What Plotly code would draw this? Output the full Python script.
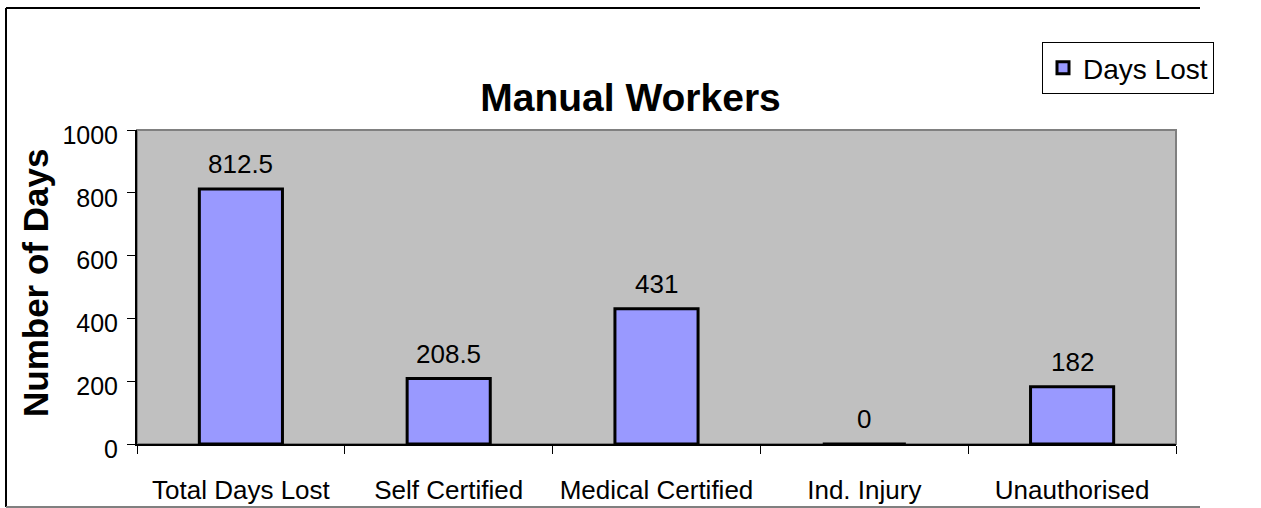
import plotly.graph_objects as go

categories = ["Total Days Lost", "Self Certified", "Medical Certified", "Ind. Injury", "Unauthorised"]
days_lost = [812.5, 208.5, 431, 0, 182]
value_labels = ["812.5", "208.5", "431", "0", "182"]
y_ticks = [0, 200, 400, 600, 800, 1000]
series_name = "Days Lost"
title_text = "Manual Workers"
y_title = "Number of Days"

W, H = 1261, 508
L, R, T, B = 137, 1176, 130, 444  # plot area in px
PW, PH = R - L, B - T


def px_x(x):
    return (x - L) / PW


def px_y(y):
    return (B - y) / PH


FONT = "Liberation Sans, Arial, sans-serif"

fig = go.Figure()
fig.add_trace(go.Bar(
    x=categories, y=days_lost, name=series_name, width=0.4,
    marker=dict(color="#9999FF", line=dict(color="black", width=3)),
    showlegend=True,
))

# data labels
for c, v, lab in zip(categories, days_lost, value_labels):
    fig.add_annotation(x=c, y=v, xref="x", yref="y", text=lab,
                       showarrow=False, yanchor="bottom", yshift=8,
                       font=dict(family=FONT, size=26, color="black"))

# y axis title
fig.add_annotation(x=px_x(35), y=px_y(283), xref="paper", yref="paper", text="<b>" + y_title + "</b>",
                   textangle=-90, showarrow=False, xanchor="center", yanchor="middle",
                   font=dict(family=FONT, size=35, color="black"))

shapes = [
    # plot area border (gray)
    dict(type="rect", xref="paper", yref="paper", x0=0, x1=1, y0=0, y1=1,
         line=dict(color="#808080", width=2), fillcolor="rgba(0,0,0,0)", layer="below"),
    # outer chart border
    dict(type="line", xref="paper", yref="paper", x0=px_x(6), x1=px_x(6), y0=px_y(8), y1=px_y(507),
         line=dict(color="black", width=2)),
    dict(type="line", xref="paper", yref="paper", x0=px_x(6), x1=px_x(1200), y0=px_y(8), y1=px_y(8),
         line=dict(color="black", width=2)),
    dict(type="line", xref="paper", yref="paper", x0=px_x(6), x1=px_x(1200), y0=px_y(507), y1=px_y(507),
         line=dict(color="#808080", width=2)),
]

fig.update_layout(
    width=W, height=H,
    margin=dict(l=L, r=W - R, t=T, b=H - B, pad=0, autoexpand=False),
    paper_bgcolor="white", plot_bgcolor="#C0C0C0",
    font=dict(family=FONT, color="black"),
    title=dict(text="<b>" + title_text + "</b>", x=0.5, xref="container", xanchor="center",
               y=1 - 97.5 / H, yref="container", yanchor="middle",
               font=dict(family=FONT, size=39, color="black")),
    legend=dict(x=px_x(1042), y=px_y(42), xanchor="left", yanchor="top",
                bordercolor="black", borderwidth=1, bgcolor="white",
                font=dict(family=FONT, size=28, color="black")),
    shapes=shapes,
    bargap=0.6,
)

fig.update_xaxes(
    type="category", showgrid=False, showline=True, linecolor="black", linewidth=2,
    ticks="outside", ticklen=8, tickcolor="black", tickwidth=1, tickson="boundaries",
    tickfont=dict(family=FONT, size=26, color="black"), ticklabelstandoff=22,
    zeroline=False, automargin=False,
)
fig.update_yaxes(
    range=[0, 1000], tickvals=y_ticks, ticktext=[str(t) for t in y_ticks],
    showgrid=False, showline=True, linecolor="black", linewidth=2,
    ticks="outside", ticklen=8, tickcolor="black", tickwidth=1,
    tickfont=dict(family=FONT, size=25, color="black"), ticklabelstandoff=4, ticklabelshift=5,
    zeroline=False, automargin=False,
)

fig.write_html("out.html", config={"displayModeBar": False},
               post_script="document.documentElement.style.overflow='hidden';document.body.style.margin='0';document.body.style.overflow='hidden';")
